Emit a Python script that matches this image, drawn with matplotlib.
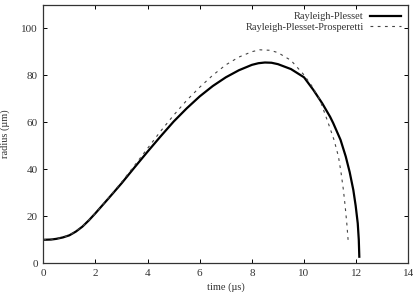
import matplotlib
matplotlib.use("Agg")
import matplotlib.pyplot as plt

# values
t_rp = [0.0, 0.3, 0.5, 0.75, 1.0, 1.25, 1.5, 1.75, 2.0, 2.5, 3.0, 3.5, 4.0, 4.5, 5.0,
        5.5, 6.0, 6.5, 7.0, 7.5, 8.0, 8.25, 8.5, 8.75, 9.0, 9.5, 10.0, 10.36, 10.7,
        11.0, 11.12, 11.4, 11.6, 11.75, 11.89, 11.98, 12.06, 12.1, 12.12]
r_rp = [10.0, 10.1, 10.4, 11.0, 11.9, 13.5, 15.6, 18.3, 21.3, 27.6, 34.0, 40.8, 47.5,
        54.0, 60.3, 65.9, 71.0, 75.4, 79.1, 82.1, 84.4, 85.1, 85.4, 85.3, 84.7, 82.6,
        79.1, 73.7, 68.0, 62.3, 59.6, 52.5, 45.4, 38.8, 31.2, 24.5, 17.0, 10.0, 2.8]

t_rpp = [0.0, 0.5, 1.0, 1.5, 2.0, 2.5, 3.0, 3.5, 4.0, 4.5, 5.0, 5.5, 6.0, 6.5, 7.0,
         7.5, 8.0, 8.3, 8.7, 9.0, 9.5, 10.0, 10.3, 10.61, 10.93, 11.15, 11.32, 11.42,
         11.51, 11.58, 11.64, 11.7]
r_rpp = [10.0, 10.4, 11.9, 15.6, 21.3, 27.8, 34.5, 41.6, 48.9, 56.2, 63.0, 69.3, 74.9,
         80.0, 84.4, 87.7, 90.0, 90.8, 90.6, 89.6, 86.3, 80.1, 75.4, 69.5, 59.6, 52.5,
         45.4, 38.5, 31.2, 24.0, 17.0, 8.5]

plt.rcParams['font.family'] = ['Liberation Serif', 'DejaVu Serif']
plt.rcParams['font.size'] = 8

fig = plt.figure(figsize=(4.14, 2.92), dpi=100)
ax = fig.add_axes([0.1046, 0.0983, 0.8817, 0.8857])

ax.plot(t_rp, r_rp, color='black', lw=1.6, label='Rayleigh-Plesset',
        solid_joinstyle='round')
ax.plot(t_rpp, r_rpp, color='#444444', lw=0.8, dashes=(2.5, 4),
        label='Rayleigh-Plesset-Prosperetti')

ax.set_xlim(0, 14)
ax.set_ylim(0, 110)
ax.set_xticks(range(0, 15, 2))
ax.set_yticks(range(0, 101, 20))
ax.tick_params(direction='in', top=True, right=True, length=3, width=0.7,
               labelsize=8, labelcolor='#333333', pad=4)
for s in ax.spines.values():
    s.set_linewidth(0.9)
    s.set_color('#333333')

ax.set_xlabel('time (µs)', fontsize=7.5, color='#333333', labelpad=3)
ax.set_ylabel('radius (µm)', fontsize=7.5, color='#333333', labelpad=8)

leg = ax.legend(loc='upper right', frameon=False, markerfirst=False, fontsize=7.5,
                handlelength=3.0, handletextpad=0.6, borderaxespad=0.3,
                labelspacing=0.15)
for txt in leg.get_texts():
    txt.set_ha('right')
    txt.set_color('#333333')
leg._legend_box.align = 'right'

fig.savefig('out.png', dpi=100)
